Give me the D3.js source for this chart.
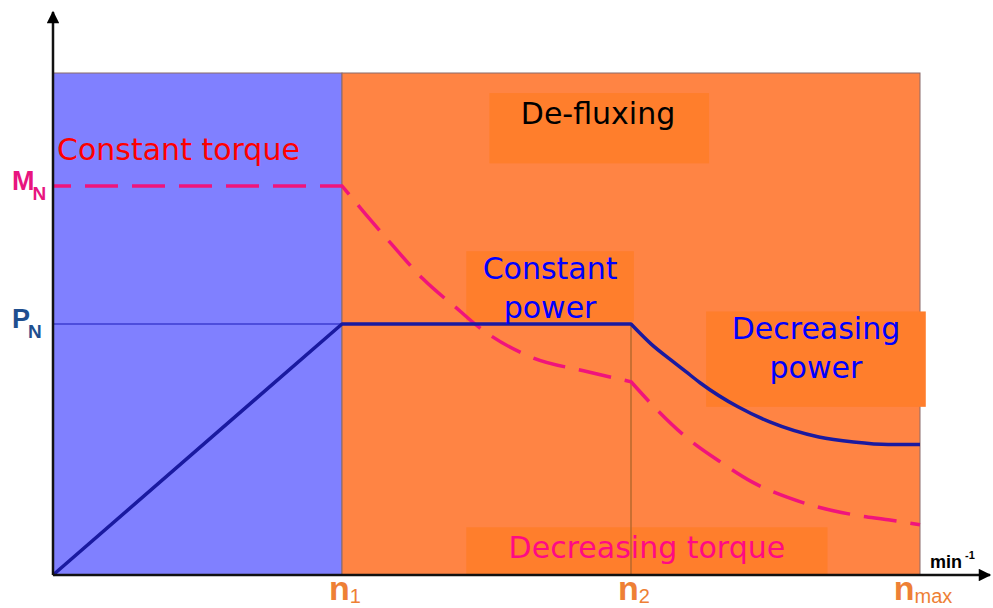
<!DOCTYPE html>
<html>
<head>
<meta charset="utf-8">
<script src="https://cdn.jsdelivr.net/npm/d3@7"></script>
<style>
body { margin: 0; background: #fff; }
svg { display: block; }
</style>
</head>
<body>
<svg id="chart" width="993" height="608"></svg>
<script>
// speed in units of n1, value in units of P_N
var regions = [
  {name: 'constant', x0: 0, x1: 1, color: '#8080ff'},
  {name: 'defluxing', x0: 1, x1: 3, color: '#ff8444'}
];
var xTicks = [{x: 1, main: 'n', sub: '1'}, {x: 2, main: 'n', sub: '2'}, {x: 3, main: 'n', sub: 'max'}];
var yTicks = [{y: 1.55, main: 'M', sub: 'N', color: '#e8157f'}, {y: 1, main: 'P', sub: 'N', color: '#1f4f8f'}];

var powerX = [0, 1, 2, 2.07, 2.14, 2.19, 2.24, 2.37, 2.48, 2.65, 2.77, 2.89, 3.0];
var powerY = [0, 1, 1, 0.92, 0.855, 0.81, 0.765, 0.67, 0.61, 0.55, 0.53, 0.52, 0.52];
var powerSegments = [[0, 2, 'linear'], [2, 12, 'smooth']];

var torqueX = [0, 1, 1.08, 1.17, 1.28, 1.41, 1.46, 1.65, 1.85, 2.0, 2.08, 2.19, 2.31, 2.42, 2.54, 2.65, 2.77, 2.89, 3.0];
var torqueY = [1.55, 1.55, 1.44, 1.32, 1.18, 1.05, 1.0, 0.87, 0.81, 0.77, 0.67, 0.55, 0.45, 0.37, 0.31, 0.27, 0.24, 0.22, 0.2];
var torqueSegments = [[0, 1, 'linear'], [1, 9, 'smooth'], [9, 18, 'smooth']];

var labels = [
  {lines: ['Constant torque'], x: 0.014, y: 1.653, anchor: 'start', color: '#ff0000', box: null},
  {lines: ['De-fluxing'], x: 1.886, y: 1.797, anchor: 'middle', color: '#000000', box: [1.51, 2.27, 1.92, 1.64]},
  {lines: ['Constant', 'power'], x: 1.72, y: 1.179, anchor: 'middle', color: '#0000ff', box: [1.43, 2.01, 1.29, 1.01]},
  {lines: ['Decreasing', 'power'], x: 2.64, y: 0.94, anchor: 'middle', color: '#0000ff', box: [2.26, 3.02, 1.05, 0.67]},
  {lines: ['Decreasing torque'], x: 2.055, y: 0.068, anchor: 'middle', color: '#ff0a84', box: [1.43, 2.68, 0.19, 0]}
];

var svg = d3.select('#chart');
var x = d3.scaleLinear().domain([0, 3]).range([53, 920]);
var y = d3.scaleLinear().domain([0, 2]).range([575, 73]);

// background regions
svg.selectAll('rect.region')
  .data(regions)
  .enter()
  .append('rect')
    .attr('class', 'region')
    .attr('x', function(d) { return x(d.x0); })
    .attr('y', y(2))
    .attr('width', function(d) { return x(d.x1) - x(d.x0); })
    .attr('height', y(0) - y(2))
    .attr('fill', function(d) { return d.color; })
    .attr('stroke', '#8a6a6a')
    .attr('stroke-width', 1);

// label boxes
svg.selectAll('rect.box')
  .data(labels.filter(function(d) { return d.box; }))
  .enter()
  .append('rect')
    .attr('class', 'box')
    .attr('x', function(d) { return x(d.box[0]); })
    .attr('y', function(d) { return y(d.box[2]); })
    .attr('width', function(d) { return x(d.box[1]) - x(d.box[0]); })
    .attr('height', function(d) { return y(d.box[3]) - y(d.box[2]); })
    .attr('fill', '#ff7e2c');

// P_N reference line and n2 marker
svg.append('line')
  .attr('x1', x(0)).attr('x2', x(1))
  .attr('y1', y(1)).attr('y2', y(1))
  .attr('stroke', '#3c3cd0').attr('stroke-width', 1.5);
svg.append('line')
  .attr('x1', x(2)).attr('x2', x(2))
  .attr('y1', y(1)).attr('y2', y(0))
  .attr('stroke', '#b8682c').attr('stroke-width', 1.5);

// build one path from segments, kinks between them
function curvePath(xs, ys, segs) {
  var pts = xs.map(function(v, i) { return [v, ys[i]]; });
  var parts = segs.map(function(s, k) {
    var line = d3.line()
      .x(function(d) { return x(d[0]); })
      .y(function(d) { return y(d[1]); })
      .curve(s[2] == 'linear' ? d3.curveLinear : d3.curveMonotoneX);
    var p = line(pts.slice(s[0], s[1] + 1));
    return k ? p.replace(/^M/, 'L') : p;
  });
  return parts.join('');
}

svg.append('path')
  .attr('d', curvePath(torqueX, torqueY, torqueSegments))
  .attr('fill', 'none')
  .attr('stroke', '#f0147c')
  .attr('stroke-width', 3.5)
  .attr('stroke-dasharray', '33,14')
  .attr('stroke-dashoffset', 15);

svg.append('path')
  .attr('d', curvePath(powerX, powerY, powerSegments))
  .attr('fill', 'none')
  .attr('stroke', '#1a1aa0')
  .attr('stroke-width', 3.5)
  .attr('stroke-linejoin', 'round');

// text labels
labels.forEach(function(l) {
  var t = svg.append('text')
    .attr('x', x(l.x))
    .attr('y', y(l.y))
    .attr('text-anchor', l.anchor)
    .attr('fill', l.color)
    .style('font-family', 'DejaVu Sans')
    .style('font-size', '30px');
  t.selectAll('tspan')
    .data(l.lines)
    .enter()
    .append('tspan')
      .attr('x', x(l.x))
      .attr('dy', function(d, i) { return i ? 39 : 0; })
      .text(function(d) { return d; });
});

// axes with arrows
svg.append('defs').append('marker')
  .attr('id', 'arrow')
  .attr('viewBox', '0 0 10 10')
  .attr('refX', 9).attr('refY', 5)
  .attr('markerWidth', 9).attr('markerHeight', 5)
  .attr('orient', 'auto')
  .append('path')
    .attr('d', 'M0,0 L10,5 L0,10 Z')
    .attr('fill', '#000');

svg.append('line')
  .attr('x1', x(0)).attr('y1', y(0))
  .attr('x2', x(0)).attr('y2', 12)
  .attr('stroke', '#111').attr('stroke-width', 2.5)
  .attr('marker-end', 'url(#arrow)');
svg.append('line')
  .attr('x1', x(0)).attr('y1', y(0))
  .attr('x2', 990).attr('y2', y(0))
  .attr('stroke', '#111').attr('stroke-width', 2.5)
  .attr('marker-end', 'url(#arrow)');

var unit = svg.append('text')
  .attr('x', 930).attr('y', 568)
  .style('font-family', 'Liberation Sans').style('font-weight', 'bold')
  .style('font-size', '18px').attr('fill', '#000');
unit.append('tspan').text('min');
unit.append('tspan').attr('dx', 3).attr('dy', -9).style('font-size', '11px').text('-1');

// tick labels
xTicks.forEach(function(d) {
  var t = svg.append('text')
    .attr('x', x(d.x) + 3).attr('y', 600)
    .attr('text-anchor', 'middle')
    .attr('fill', '#ee8035')
    .style('font-family', 'Liberation Sans').style('font-weight', 'bold')
    .style('font-size', '34px');
  t.append('tspan').text(d.main);
  t.append('tspan').attr('dy', 3).style('font-size', '20px').style('font-weight', 'normal').text(d.sub);
});

yTicks.forEach(function(d) {
  var t = svg.append('text')
    .attr('x', 12).attr('y', y(d.y) + 4)
    .attr('fill', d.color)
    .style('font-family', 'Liberation Sans').style('font-weight', 'bold')
    .style('font-size', '27px');
  t.append('tspan').text(d.main);
  t.append('tspan').attr('dx', -2).attr('dy', 10).style('font-size', '19px').text(d.sub);
});
</script>
</body>
</html>
